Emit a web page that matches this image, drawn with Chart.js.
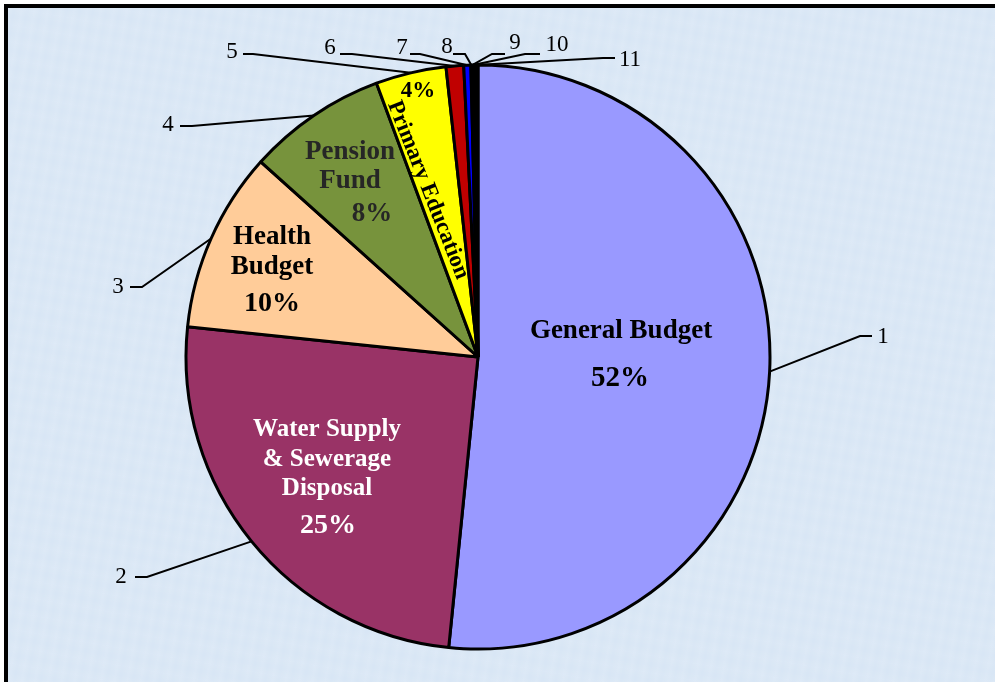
<!DOCTYPE html>
<html>
<head>
<meta charset="utf-8">
<script src="https://cdn.jsdelivr.net/npm/chart.js@4.4.1/dist/chart.umd.min.js"></script>
<style>
  html, body { margin: 0; padding: 0; background: #ffffff; width: 995px; height: 682px; overflow: hidden; }
  #frame {
    position: absolute; left: 4px; top: 4px; width: 995px; height: 690px;
    border-top: 4px solid #000; border-left: 4px solid #000;
    background-color: #d8e6f5;
    background-image:
      repeating-linear-gradient(100deg, rgba(255,255,255,0.10) 0px, rgba(255,255,255,0) 6px, rgba(255,255,255,0.08) 13px),
      repeating-linear-gradient(10deg, rgba(255,255,255,0.07) 0px, rgba(255,255,255,0) 9px, rgba(255,255,255,0.06) 17px);
  }
  #c { position: absolute; left: 0; top: 0; }
</style>
</head>
<body>
<div id="frame"></div>
<canvas id="c" width="995" height="682"></canvas>
<script>
// ---- data ----
const categories = ["1", "2", "3", "4", "5", "6", "7", "8", "9", "10", "11"];
const sliceNames = ["General Budget", "Water Supply & Sewerage Disposal", "Health Budget", "Pension Fund", "Primary Education", "", "", "", "", "", ""];
const shares = [51.6, 25.05, 10.0, 7.7, 3.9, 0.97, 0.39, 0.05, 0.05, 0.05, 0.24];
const percentLabels = ["52%", "25%", "10%", "8%", "4%", "", "", "", "", "", ""];
const sliceColors = ["#9999FF", "#993366", "#FFCC99", "#77933C", "#FFFF00", "#C00000", "#0000FF", "#000000", "#000000", "#000000", "#000000"];

// ---- layout for annotations (relative to pie centre, px) ----
const calloutLayout = [
  { text: [405, -20], end: [394, -21], elbow: [382, -21] },
  { text: [-357, 220], end: [-343, 220], elbow: [-331, 220] },
  { text: [-360, -70], end: [-348, -70], elbow: [-336, -70] },
  { text: [-310, -232], end: [-298, -231], elbow: [-286, -231] },
  { text: [-246, -305], end: [-235, -303], elbow: [-225, -303] },
  { text: [-148, -309], end: [-138, -303], elbow: [-126, -303] },
  { text: [-76, -309], end: [-68, -303], elbow: [-58, -303] },
  { text: [-31, -310], end: [-25, -303], elbow: [-13, -303] },
  { text: [37, -314], end: [27, -303], elbow: [14, -303] },
  { text: [79, -312], end: [62, -303], elbow: [47, -303] },
  { text: [152, -297], end: [137, -299], elbow: [125, -299] }
];

const insideLayout = [
  { lines: [["General Budget", 143, -26]], pct: [142, 22], size: 27, pctSize: 29, color: "#000000" },
  { lines: [["Water Supply", -151, 73], ["& Sewerage", -151, 103], ["Disposal", -151, 132]], pct: [-150, 169], size: 25, pctSize: 28, color: "#ffffff" },
  { lines: [["Health", -206, -120], ["Budget", -206, -90]], pct: [-206, -53], size: 27, pctSize: 28, color: "#000000" },
  { lines: [["Pension", -128, -205], ["Fund", -128, -176]], pct: [-106, -143], size: 27, pctSize: 27, color: "#262626" },
  { rotated: { text: "Primary Education", x: -50, y: -167, angle: 68.5 }, pct: [-60, -266], size: 23, pctSize: 23, color: "#000000" }
];

const annotatePlugin = {
  id: "annotate",
  afterDatasetsDraw(chart) {
    const ctx = chart.ctx;
    const meta = chart.getDatasetMeta(0);
    const arcs = meta.data;
    if (!arcs.length) return;
    const cx = arcs[0].x, cy = arcs[0].y;

    // callouts
    ctx.save();
    ctx.strokeStyle = "#000";
    ctx.lineWidth = 2;
    ctx.fillStyle = "#000";
    ctx.font = "23px 'Liberation Serif'";
    ctx.textAlign = "center";
    ctx.textBaseline = "middle";
    arcs.forEach((arc, i) => {
      const L = calloutLayout[i];
      if (!L) return;
      const a = (arc.startAngle + arc.endAngle) / 2;
      const R = arc.outerRadius;
      const ax = cx + Math.cos(a) * R, ay = cy + Math.sin(a) * R;
      ctx.beginPath();
      ctx.moveTo(ax, ay);
      ctx.lineTo(cx + L.elbow[0], cy + L.elbow[1]);
      ctx.lineTo(cx + L.end[0], cy + L.end[1]);
      ctx.stroke();
      ctx.fillText(categories[i], cx + L.text[0], cy + L.text[1]);
    });
    ctx.restore();

    // inside labels
    ctx.save();
    ctx.textAlign = "center";
    ctx.textBaseline = "middle";
    insideLayout.forEach((L, i) => {
      ctx.fillStyle = L.color;
      ctx.font = "bold " + L.size + "px 'Liberation Serif'";
      if (L.lines) {
        L.lines.forEach(([t, x, y]) => ctx.fillText(t, cx + x, cy + y));
      }
      if (L.rotated) {
        ctx.save();
        ctx.translate(cx + L.rotated.x, cy + L.rotated.y);
        ctx.rotate(L.rotated.angle * Math.PI / 180);
        ctx.fillText(L.rotated.text, 0, 0);
        ctx.restore();
      }
      ctx.font = "bold " + L.pctSize + "px 'Liberation Serif'";
      ctx.fillText(percentLabels[i], cx + L.pct[0], cy + L.pct[1]);
    });
    ctx.restore();
  }
};

new Chart(document.getElementById("c"), {
  type: "pie",
  data: {
    labels: categories,
    datasets: [{
      data: shares,
      backgroundColor: sliceColors,
      borderColor: "#000000",
      borderWidth: 3
    }]
  },
  options: {
    responsive: false,
    animation: false,
    radius: 292,
    layout: { padding: { left: 0, right: 39, top: 32, bottom: 0 } },
    plugins: {
      legend: { display: false },
      tooltip: { enabled: false }
    }
  },
  plugins: [annotatePlugin]
});
</script>
</body>
</html>
